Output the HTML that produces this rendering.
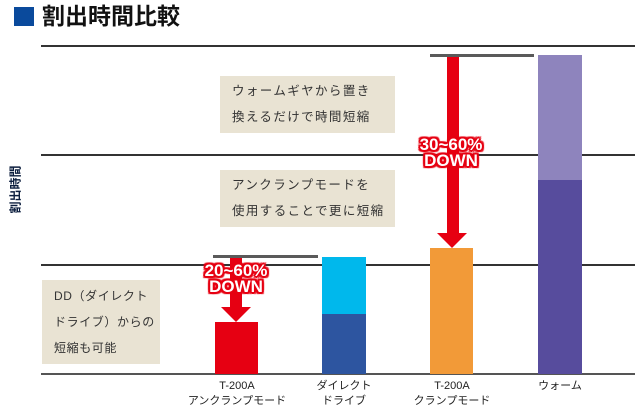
<!DOCTYPE html>
<html><head><meta charset="utf-8"><style>
body{margin:0;width:635px;height:414px;background:#fff;position:relative;overflow:hidden;font-family:"Liberation Sans","Noto Sans CJK JP",sans-serif}
.a{position:absolute}
.g{position:absolute;left:41px;width:594px;height:2px;background:#333}
.box{position:absolute;background:#e9e3d3;color:#333;font-size:12.5px;line-height:26px;letter-spacing:1.4px;padding:0 12px;box-sizing:border-box;white-space:nowrap}
.dn{position:absolute;color:#fff;font-weight:bold;font-size:17px;line-height:16px;text-align:center;text-shadow:0 0 2px #e60012,1px 1px 0 #e60012,-1px -1px 0 #e60012,1px -1px 0 #e60012,-1px 1px 0 #e60012,2px 0 0 #e60012,-2px 0 0 #e60012,0 2px 0 #e60012,0 -2px 0 #e60012,2px 2px 1px #e60012,-2px -2px 1px #e60012,2px -2px 1px #e60012,-2px 2px 1px #e60012}
.lb{position:absolute;font-size:11px;line-height:15px;color:#222;text-align:center;width:110px;white-space:nowrap}
</style></head><body>
<div class="a" style="left:14px;top:7px;width:20px;height:19px;background:#0a4a9c"></div>
<div class="a" style="left:42px;top:1px;font-size:23px;line-height:30px;color:#111;font-weight:bold">割出時間比較</div>
<div class="a" style="left:-14px;top:181px;width:58px;font-size:12px;font-weight:bold;color:#0d1f3f;transform:rotate(-90deg);text-align:center">割出時間</div>
<div class="g" style="top:45px"></div>
<div class="g" style="top:154px"></div>
<div class="g" style="top:264px"></div>
<div class="g" style="top:373px;background:#555"></div>
<div class="box" style="left:220px;top:76px;width:175px;height:57px;padding-top:2px">ウォームギヤから置き<br>換えるだけで時間短縮</div>
<div class="box" style="left:220px;top:170px;width:175px;height:57px;padding-top:2px">アンクランプモードを<br>使用することで更に短縮</div>
<div class="box" style="left:42px;top:280px;width:118px;height:84px;padding-top:3px;font-size:12px;letter-spacing:0.6px">DD（ダイレクト<br>ドライブ）からの<br>短縮も可能</div>
<div class="a" style="left:215px;top:322px;width:43px;height:52px;background:#e60012"></div>
<div class="a" style="left:322px;top:257px;width:44px;height:57px;background:#00b8ec"></div>
<div class="a" style="left:322px;top:314px;width:44px;height:60px;background:#2d55a0"></div>
<div class="a" style="left:430px;top:248px;width:43px;height:126px;background:#f29a38"></div>
<div class="a" style="left:538px;top:55px;width:44px;height:125px;background:#8e84bd"></div>
<div class="a" style="left:538px;top:180px;width:44px;height:194px;background:#574c9d"></div>
<div class="a" style="left:213px;top:255px;width:105px;height:3px;background:#5a5a5a"></div>
<div class="a" style="left:430px;top:54px;width:104px;height:3px;background:#5a5a5a"></div>
<div class="a" style="left:230px;top:258px;width:12px;height:50px;background:#e60012"></div>
<div class="a" style="left:221px;top:307px;width:0;height:0;border-left:15px solid transparent;border-right:15px solid transparent;border-top:15px solid #e60012"></div>
<div class="a" style="left:447px;top:57px;width:12px;height:177px;background:#e60012"></div>
<div class="a" style="left:437px;top:233px;width:0;height:0;border-left:15px solid transparent;border-right:15px solid transparent;border-top:15px solid #e60012"></div>
<div class="dn" style="left:186px;top:263px;width:100px">20~60%<br>DOWN</div>
<div class="dn" style="left:401px;top:137px;width:100px">30~60%<br>DOWN</div>
<div class="lb" style="left:182px;top:379px">T-200A<br>アンクランプモード</div>
<div class="lb" style="left:289px;top:379px">ダイレクト<br>ドライブ</div>
<div class="lb" style="left:397px;top:379px">T-200A<br>クランプモード</div>
<div class="lb" style="left:505px;top:379px">ウォーム</div>
</body></html>
